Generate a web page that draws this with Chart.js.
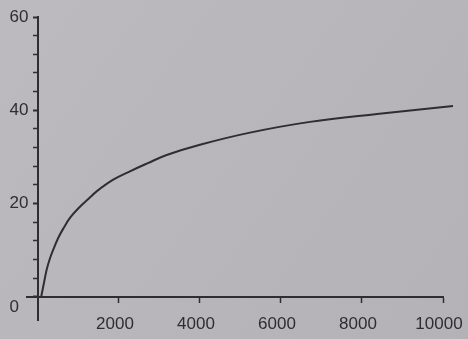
<!DOCTYPE html>
<html>
<head>
<meta charset="utf-8">
<script src="https://cdn.jsdelivr.net/npm/chart.js@4.4.1/dist/chart.umd.min.js"></script>
<style>
  html, body { margin: 0; padding: 0; background: #b8b6bb; }
  #wrap { width: 468px; height: 339px; }
</style>
</head>
<body>
<div id="wrap"><canvas id="c" width="468" height="339"></canvas></div>
<script>
// ---- data ----
const xValues = [80, 150, 215, 300, 378, 500, 625, 800, 1037, 1250, 1449, 1859, 2272, 2700, 3178, 4000, 5235, 6716, 8370, 10247];
const yValues = [0, 3.0, 5.8, 8.3, 10.1, 12.6, 14.6, 17.0, 19.3, 21.0, 22.6, 25.1, 26.9, 28.6, 30.4, 32.6, 35.2, 37.5, 39.2, 40.9];
const xTickValues = [2000, 4000, 6000, 8000, 10000];
const yTickValues = [0, 4, 8, 12, 16, 20, 24, 28, 32, 36, 40, 44, 48, 52, 56, 60];
const yLabelValues = [0, 20, 40, 60];
const xRange = [-270, 10000];
const yRange = [-5, 60];

const points = xValues.map((x, i) => ({ x: x, y: yValues[i] }));
const ink = '#2e2d31';
const FS = '\u2007'; // figure space used as gap between label and axis

const bgPlugin = {
  id: 'bg',
  beforeDraw(chart) {
    const { ctx, width, height } = chart;
    const g = ctx.createLinearGradient(0, 0, width, height);
    g.addColorStop(0, '#bcbabf');
    g.addColorStop(1, '#b4b2b7');
    ctx.save();
    ctx.fillStyle = g;
    ctx.fillRect(0, 0, width, height);
    ctx.restore();
  }
};

function zeroPad(s) {
  s.paddingLeft = 0; s.paddingRight = 0; s.paddingTop = 0; s.paddingBottom = 0;
}

new Chart(document.getElementById('c'), {
  type: 'line',
  data: {
    datasets: [{
      data: points,
      borderColor: ink,
      borderWidth: 2,
      pointRadius: 0,
      fill: false,
      tension: 0.4,
      clip: false
    }]
  },
  options: {
    responsive: false,
    animation: false,
    layout: { padding: { left: 27, right: 25, top: 17, bottom: 19 } },
    plugins: { legend: { display: false }, tooltip: { enabled: false } },
    scales: {
      x: {
        type: 'linear',
        min: xRange[0], max: xRange[1],
        position: { y: 0 },
        afterFit(s) { s.height = 0; zeroPad(s); },
        afterBuildTicks(s) { s.ticks = xTickValues.map(v => ({ value: v })); },
        grid: { drawOnChartArea: false, drawTicks: true, tickLength: 5, tickColor: ink, tickWidth: 1.5 },
        border: { display: true, color: ink, width: 2 },
        ticks: {
          color: ink, padding: 12, maxRotation: 0, autoSkip: false, labelOffset: -4,
          font: { family: 'Liberation Sans, Arial, sans-serif', size: 17 },
          callback: v => String(v)
        }
      },
      y: {
        type: 'linear',
        min: yRange[0], max: yRange[1],
        position: { x: 0 },
        afterFit(s) { s.width = 0; zeroPad(s); },
        afterBuildTicks(s) { s.ticks = yTickValues.map(v => ({ value: v })); },
        grid: { drawOnChartArea: false, drawTicks: true, tickLength: 4, tickColor: ink,
                tickWidth: c => (yLabelValues.includes(c.tick.value) ? 2 : 1.5) },
        border: { display: true, color: ink, width: 2 },
        ticks: {
          color: ink, padding: 6, autoSkip: false,
          font: { family: 'Liberation Sans, Arial, sans-serif', size: 17 },
          callback: v => {
            if (!yLabelValues.includes(v)) return '';
            if (v === 0) return ['', '0' + FS + FS];
            return String(v) + FS;
          }
        }
      }
    }
  },
  plugins: [bgPlugin]
});
</script>
</body>
</html>
